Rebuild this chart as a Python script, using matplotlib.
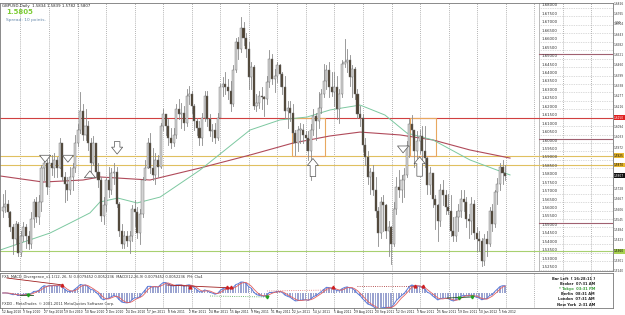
import matplotlib.pyplot as plt
from matplotlib import transforms
import numpy as np
import pandas as pd

closes = [1.5620, 1.5640, 1.5590, 1.5500, 1.5430, 1.5520, 1.5350, 1.5450, 1.5500, 1.5450,
          1.5400, 1.5550, 1.5650, 1.5560, 1.5650, 1.5850, 1.5880, 1.5740, 1.5880, 1.5850,
          1.5900, 1.5850, 1.6000, 1.5800, 1.5760, 1.5720, 1.5800, 1.5850, 1.6000, 1.6080,
          1.6190, 1.6050, 1.6100, 1.6000, 1.5880, 1.6000, 1.5830, 1.5780, 1.5570, 1.5630,
          1.5780, 1.5720, 1.5820, 1.5830, 1.5640, 1.5480, 1.5400, 1.5450, 1.5420, 1.5450,
          1.5610, 1.5590, 1.5470, 1.5580, 1.5780, 1.5850, 1.6000, 1.5850, 1.5810, 1.5900,
          1.5860, 1.6100, 1.6170, 1.6100, 1.6030, 1.6000, 1.6050, 1.6200, 1.6170, 1.6180,
          1.6120, 1.6280, 1.6290, 1.6220, 1.6130, 1.6090, 1.6030, 1.6150, 1.6280, 1.6140,
          1.6070, 1.6080, 1.6030, 1.6150, 1.6330, 1.6350, 1.6330, 1.6310, 1.6230, 1.6430,
          1.6600, 1.6560, 1.6680, 1.6620, 1.6560, 1.6390, 1.6450, 1.6220, 1.6240, 1.6280,
          1.6270, 1.6260, 1.6360, 1.6500, 1.6380, 1.6400, 1.6460, 1.6410, 1.6330, 1.6190,
          1.6210, 1.6180, 1.6060, 1.6000, 1.6080, 1.6080, 1.6050, 1.6030, 1.5950, 1.6080,
          1.6160, 1.6130, 1.6210, 1.6290, 1.6370, 1.6430, 1.6330, 1.6300, 1.6330, 1.6200,
          1.6290, 1.6470, 1.6480, 1.6490, 1.6390, 1.6440, 1.6290, 1.6170, 1.6150, 1.5990,
          1.5920, 1.5800, 1.5830, 1.5720, 1.5600, 1.5470, 1.5650, 1.5630, 1.5480, 1.5500,
          1.5400, 1.5610, 1.5740, 1.5720, 1.5780, 1.5810, 1.5980, 1.6110, 1.6080, 1.5950,
          1.6010, 1.6040, 1.5950, 1.5910, 1.5750, 1.5820, 1.5670, 1.5630, 1.5540, 1.5720,
          1.5690, 1.5620, 1.5600, 1.5480, 1.5450, 1.5560, 1.5600, 1.5670, 1.5650, 1.5550,
          1.5540, 1.5640, 1.5470, 1.5430, 1.5420, 1.5300, 1.5430, 1.5400, 1.5600, 1.5520,
          1.5710, 1.5760, 1.5860, 1.5820, 1.5807]
highs = [1.5700, 1.5720, 1.5660, 1.5600, 1.5520, 1.5540, 1.5530, 1.5480, 1.5530, 1.5520,
         1.5480, 1.5590, 1.5670, 1.5680, 1.5690, 1.5870, 1.5910, 1.5900, 1.5930, 1.5930,
         1.5940, 1.5920, 1.6030, 1.6000, 1.5830, 1.5800, 1.5860, 1.5880, 1.6050, 1.6110,
         1.6300, 1.6230, 1.6200, 1.6130, 1.6030, 1.6040, 1.6000, 1.5880, 1.5800, 1.5680,
         1.5800, 1.5860, 1.5850, 1.5880, 1.5860, 1.5650, 1.5520, 1.5480, 1.5480, 1.5480,
         1.5630, 1.5660, 1.5620, 1.5610, 1.5800, 1.5900, 1.6030, 1.6060, 1.5970, 1.5940,
         1.5930, 1.6120, 1.6200, 1.6170, 1.6140, 1.6090, 1.6090, 1.6230, 1.6260, 1.6240,
         1.6220, 1.6320, 1.6340, 1.6310, 1.6230, 1.6150, 1.6130, 1.6180, 1.6310, 1.6310,
         1.6170, 1.6110, 1.6120, 1.6180, 1.6350, 1.6390, 1.6420, 1.6380, 1.6370, 1.6460,
         1.6620, 1.6630, 1.6746, 1.6720, 1.6650, 1.6600, 1.6480, 1.6460, 1.6290, 1.6310,
         1.6330, 1.6280, 1.6400, 1.6550, 1.6530, 1.6440, 1.6480, 1.6470, 1.6420, 1.6400,
         1.6250, 1.6250, 1.6230, 1.6080, 1.6100, 1.6120, 1.6110, 1.6070, 1.6070, 1.6110,
         1.6200, 1.6180, 1.6300, 1.6320, 1.6470, 1.6460, 1.6480, 1.6420, 1.6420, 1.6400,
         1.6320, 1.6490, 1.6618, 1.6560, 1.6520, 1.6460, 1.6450, 1.6320, 1.6220, 1.6170,
         1.6030, 1.5950, 1.5850, 1.5870, 1.5800, 1.5620, 1.5680, 1.5690, 1.5640, 1.5540,
         1.5510, 1.5650, 1.5800, 1.5840, 1.5810, 1.5850, 1.6010, 1.6140, 1.6167, 1.6080,
         1.6070, 1.6080, 1.6100, 1.6100, 1.5920, 1.5860, 1.5800, 1.5690, 1.5640, 1.5760,
         1.5780, 1.5720, 1.5700, 1.5690, 1.5560, 1.5600, 1.5640, 1.5720, 1.5720, 1.5680,
         1.5580, 1.5680, 1.5660, 1.5500, 1.5480, 1.5440, 1.5460, 1.5480, 1.5620, 1.5640,
         1.5720, 1.5790, 1.5880, 1.5900, 1.5870]
lows = [1.5560, 1.5590, 1.5560, 1.5480, 1.5340, 1.5400, 1.5330, 1.5330, 1.5420, 1.5380,
        1.5370, 1.5380, 1.5500, 1.5530, 1.5520, 1.5600, 1.5780, 1.5700, 1.5750, 1.5810,
        1.5800, 1.5800, 1.5850, 1.5780, 1.5650, 1.5660, 1.5700, 1.5720, 1.5830, 1.5980,
        1.6060, 1.6020, 1.6020, 1.5960, 1.5800, 1.5870, 1.5800, 1.5740, 1.5540, 1.5520,
        1.5600, 1.5680, 1.5700, 1.5760, 1.5620, 1.5450, 1.5380, 1.5380, 1.5390, 1.5350,
        1.5420, 1.5510, 1.5440, 1.5400, 1.5560, 1.5780, 1.5850, 1.5820, 1.5780, 1.5760,
        1.5800, 1.5850, 1.6080, 1.6050, 1.5990, 1.5970, 1.5980, 1.6030, 1.6140, 1.6090,
        1.6080, 1.6100, 1.6230, 1.6180, 1.6080, 1.6050, 1.5990, 1.5990, 1.6130, 1.6100,
        1.6040, 1.6010, 1.6000, 1.6020, 1.6180, 1.6280, 1.6290, 1.6260, 1.6190, 1.6220,
        1.6420, 1.6500, 1.6540, 1.6580, 1.6510, 1.6320, 1.6320, 1.6200, 1.6190, 1.6210,
        1.6200, 1.6160, 1.6230, 1.6330, 1.6350, 1.6300, 1.6360, 1.6340, 1.6290, 1.6150,
        1.6090, 1.6130, 1.6000, 1.5930, 1.5950, 1.6000, 1.6000, 1.5960, 1.5900, 1.5780,
        1.6050, 1.6020, 1.6090, 1.6180, 1.6270, 1.6320, 1.6270, 1.6280, 1.6220, 1.6140,
        1.6120, 1.6270, 1.6450, 1.6420, 1.6340, 1.6270, 1.6260, 1.6150, 1.6100, 1.5950,
        1.5870, 1.5760, 1.5700, 1.5690, 1.5560, 1.5390, 1.5440, 1.5480, 1.5440, 1.5330,
        1.5285, 1.5390, 1.5580, 1.5680, 1.5650, 1.5680, 1.5800, 1.5920, 1.6050, 1.5860,
        1.5910, 1.5940, 1.5880, 1.5860, 1.5700, 1.5700, 1.5620, 1.5490, 1.5420, 1.5510,
        1.5630, 1.5580, 1.5580, 1.5450, 1.5420, 1.5420, 1.5480, 1.5560, 1.5600, 1.5500,
        1.5440, 1.5460, 1.5430, 1.5360, 1.5360, 1.5272, 1.5280, 1.5330, 1.5390, 1.5480,
        1.5500, 1.5640, 1.5720, 1.5760, 1.5782]
first_open = 1.5600

date_labels = ["12 Aug 2010", "3 Sep 2010", "27 Sep 2010", "19 Oct 2010", "10 Nov 2010",
               "2 Dec 2010", "24 Dec 2010", "17 Jan 2011", "8 Feb 2011", "2 Mar 2011",
               "24 Mar 2011", "15 Apr 2011", "9 May 2011", "31 May 2011", "22 Jun 2011",
               "14 Jul 2011", "5 Aug 2011", "29 Aug 2011", "20 Sep 2011", "12 Oct 2011",
               "3 Nov 2011", "25 Nov 2011", "19 Dec 2011", "10 Jan 2012", "1 Feb 2012"]

# moving averages read at a few points (bar index, price)
ma_red_x = [-1, 15.6, 31, 37.6, 56.9, 76.2, 95.5, 112.1, 126.4, 138, 153.4, 166.2, 180.4, 195.9]
ma_red_y = [1.5805, 1.5769, 1.5781, 1.5799, 1.5781, 1.5852, 1.5929, 1.6000, 1.6042, 1.6065,
            1.6048, 1.6018, 1.5959, 1.5911]
ma_grn_x = [-1, 18.3, 26, 33.7, 37.6, 44.5, 51.9, 60.8, 76.2, 95.5, 107.1, 117.5, 126.4, 138,
            147.6, 156.1, 166.2, 180.4, 195.9]
ma_grn_y = [1.5366, 1.5467, 1.5526, 1.5586, 1.5651, 1.5674, 1.5645, 1.5680, 1.5840, 1.6077,
            1.6137, 1.6154, 1.6196, 1.6225, 1.6166, 1.6059, 1.6018, 1.5900, 1.5811]

# horizontal lines
red_level = 1.6150
yellow_levels = [1.5925, 1.5870]
green_level = 1.5360
maroon_levels = [1.6525, 1.6025, 1.5525]

# boxes: (bar_from, bar_to, low, high)
boxes = [(111.7, 124.5, 1.5925, 1.6150), (157.3, 167.3, 1.5925, 1.6150)]
# arrows: (bar, tip price, direction, length in points)
arrows = [(16.4, 1.5870, "down", 7), (25.2, 1.5870, "down", 7), (33.7, 1.5852, "up", 8),
          (44.2, 1.5918, "down", 13), (119.8, 1.5925, "up", 17), (154.6, 1.5925, "down", 5),
          (161.0, 1.5935, "up", 18)]

bars = np.arange(len(closes))
opens = [first_open] + closes[:-1]

fig = plt.figure(figsize=(6.25, 3.15), dpi=100)
fig.patch.set_facecolor("white")
ax = fig.add_axes([0, 44 / 315, 613 / 625, 268 / 315])
axi = fig.add_axes([0, 7 / 315, 613 / 625, 35 / 315])

px = lambda p: (p - 2.65) / 2.59  # pixel column -> bar index
xmin, xmax = px(0), px(613)
ymin, ymax = 1.68 - 263 / 1688, 1.68 + 5 / 1688

# vertical dotted grid
for g in np.arange(px(20.5), xmax, 11.02):
    ax.axvline(g, color="#9a9a9a", lw=0.6, ls=(0, (1, 1.5)), zorder=0)
    axi.axvline(g, color="#9a9a9a", lw=0.6, ls=(0, (1, 1.5)), zorder=0)

# inner price labels and dotted levels on the right
xl = px(539)
ax.axvline(xl, color="#b0b0b0", lw=0.6, zorder=0)
for lv in np.arange(1.525, 1.6801, 0.005):
    ax.plot([xl, xmax], [lv, lv], color="#b8b8b8", lw=0.5, ls=(0, (1, 1.5)), zorder=0)
    ax.text(xl + 0.8, lv + 0.0003, f"{lv:.5f}", fontsize=2.8, color="#333333", va="bottom")
for lv in maroon_levels:
    ax.plot([xl, xmax], [lv, lv], color="#a06070", lw=0.8, zorder=1)

ax.axhline(red_level, color="#d04040", lw=0.8, zorder=1)
for lv in yellow_levels:
    ax.axhline(lv, color="#e0c060", lw=0.8, zorder=1)
ax.axhline(green_level, color="#a8d070", lw=0.8, zorder=1)

for b0, b1, lo, hi in boxes:
    ax.add_patch(plt.Rectangle((b0, lo), b1 - b0, hi - lo, fill=False, ec="#e8a860", lw=0.8, zorder=2))

ax.plot(ma_red_x, ma_red_y, color="#b04a5a", lw=0.8, zorder=2)
ax.plot(ma_grn_x, ma_grn_y, color="#7cc8a0", lw=0.7, zorder=2)

# candles
for b, o, h, l, c in zip(bars, opens, highs, lows, closes):
    ax.plot([b, b], [l, h], color="#8a8a8a", lw=0.6, zorder=3)
    col = "#d4d4d4" if c >= o else "#4e4232"
    ax.add_patch(plt.Rectangle((b - 0.4, min(o, c)), 0.8, max(abs(c - o), 0.0002),
                               fc=col, ec="#6a6a6a", lw=0.3, zorder=4))

for b, p, d, ln in arrows:
    off = ln if d == "down" else -ln
    ax.annotate("", xy=(b, p), xytext=(0, off), textcoords="offset points",
                arrowprops=dict(arrowstyle="simple,head_length=0.5,head_width=0.8,tail_width=0.4",
                                fc="white", ec="#555555", lw=0.5), zorder=5)

ax.set_xlim(xmin, xmax)
ax.set_ylim(ymin, ymax)
ax.set_xticks([])
ax.set_yticks([])
for s in ax.spines.values():
    s.set_color("#777777")
    s.set_linewidth(0.6)

ax.text(2 / 613, 1 - 1 / 268, "GBPUSD,Daily  1.5834 1.5839 1.5782 1.5807", transform=ax.transAxes,
        fontsize=2.8, va="top", color="#222222")
ax.text(6 / 613, 1 - 6 / 268, "1.5805", transform=ax.transAxes, fontsize=5, fontweight="bold",
        va="top", color="#7ccc33")
ax.text(6 / 613, 1 - 15 / 268, "Spread: 10 points.", transform=ax.transAxes, fontsize=3.2,
        va="top", color="#6688aa")

# right price scale
ypix = lambda p: (315 - (8 + (1.68 - p) * 1688)) / 315
tags = [(red_level, "#e02020", "white"), (yellow_levels[0], "#e8b830", "black"),
        (yellow_levels[1], "#e8b830", "black"), (1.5807, "#111111", "white"),
        (green_level, "#a8d050", "black")]
for lv in np.arange(1.6826, 1.524, -0.0061):
    if min(abs(ypix(lv) - ypix(t[0])) for t in tags) * 315 < 5:
        continue
    fig.text(614 / 625, ypix(lv), f"{lv:.4f}", fontsize=2.1, va="center", color="#333333")
for lv, fc, tc in tags:
    fig.text(614 / 625, ypix(lv), f"{lv:.4f}", fontsize=2.1, va="center", color=tc,
             bbox=dict(boxstyle="square,pad=0.15", fc=fc, ec="none"))

# indicator: MACD from the closes
cl = pd.Series(closes)
macd = cl.ewm(span=6).mean() - cl.ewm(span=13).mean()
sig = macd.rolling(3, min_periods=1).mean()
axi.bar(bars, macd, width=0.55, color="#9aa3d0", zorder=2)
axi.plot(bars, macd, color="#5a7ad8", lw=0.7, zorder=3)
axi.plot(bars, sig, color="#e06060", lw=0.6, zorder=3)
m = np.abs(macd).max() * 1.15
axi.set_ylim(-0.75 * m, m)
axi.set_xlim(xmin, xmax)

# divergence marks, pixel positions (x px, y px in figure)
tr = transforms.blended_transform_factory(axi.transData, axi.transAxes)
fy = lambda y: (308 - y) / 35
div_lines = [(7, 278, 63, 285, "#a02020", "-"), (20, 295, 33, 295, "#205020", "-"),
             (167, 285, 233, 288, "#a02020", "-"), (210, 296, 267, 297, "#40a040", ":"),
             (267, 291, 330, 290, "#e07070", ":"), (357, 286, 415, 286, "#a02020", ":"),
             (447, 298, 472, 297, "#205020", "-")]
for x0, y0, x1, y1, c, ls in div_lines:
    axi.plot([px(x0), px(x1)], [fy(y0), fy(y1)], color=c, lw=0.6, ls=ls, transform=tr, zorder=4)
red_marks = [(62, 285), (190, 287), (227, 287), (231, 287), (333, 287), (415, 286), (423, 286)]
green_marks = [(28, 295), (267, 297), (459, 298), (472, 297)]
for x0, y0 in red_marks:
    axi.plot(px(x0), fy(y0), marker="^", ms=2, color="#d02020", transform=tr, zorder=5)
for x0, y0 in green_marks:
    axi.plot(px(x0), fy(y0), marker="v", ms=2, color="#20a020", transform=tr, zorder=5)

axi.set_xticks([])
axi.set_yticks([])
for s in axi.spines.values():
    s.set_color("#777777")
    s.set_linewidth(0.6)
axi.text(2 / 613, 0.93, "FX5_MACD_Divergence_v1.1(12, 26, 5) 0.0079452 0.0052236  MACD(12,26,9) "
         "0.0079452 0.0052236  PH: Clu4", transform=axi.transAxes, fontsize=2.6, va="top",
         color="#333333")
axi.text(2 / 613, 0.05, "FXDD - MetaTrader, \u00a9 2001-2011 MetaQuotes Software Corp.",
         transform=axi.transAxes, fontsize=2.6, va="bottom", color="#333333")
clock = [("Bar Left  [ 16:28:11 ]", "#222222"), ("Broker  07:31 AM", "#222222"),
         ("* Tokyo  03:31 PM", "#40a040"), ("Berlin  08:31 AM", "#222222"),
         ("London  07:31 AM", "#222222"), ("New York  2:31 AM", "#222222")]
for i, (t, c) in enumerate(clock):
    axi.text(595 / 613, 0.9 - i * 0.15, t, transform=axi.transAxes, fontsize=2.6, ha="right",
             va="top", color=c, fontweight="bold")
fig.text(615 / 625, 292 / 315, "0.00", fontsize=2.1, va="center", color="#333333")

# date labels
for j, lab in enumerate(date_labels):
    axi.text(8 * j - 0.2, -0.12, lab, transform=tr, fontsize=2.2, va="center", ha="left",
             color="#222222", clip_on=False)
    axi.plot([8 * j - 0.2] * 2, [0, -0.05], color="#555555", lw=0.4, transform=tr, clip_on=False)

fig.savefig("out.png", dpi=100)
